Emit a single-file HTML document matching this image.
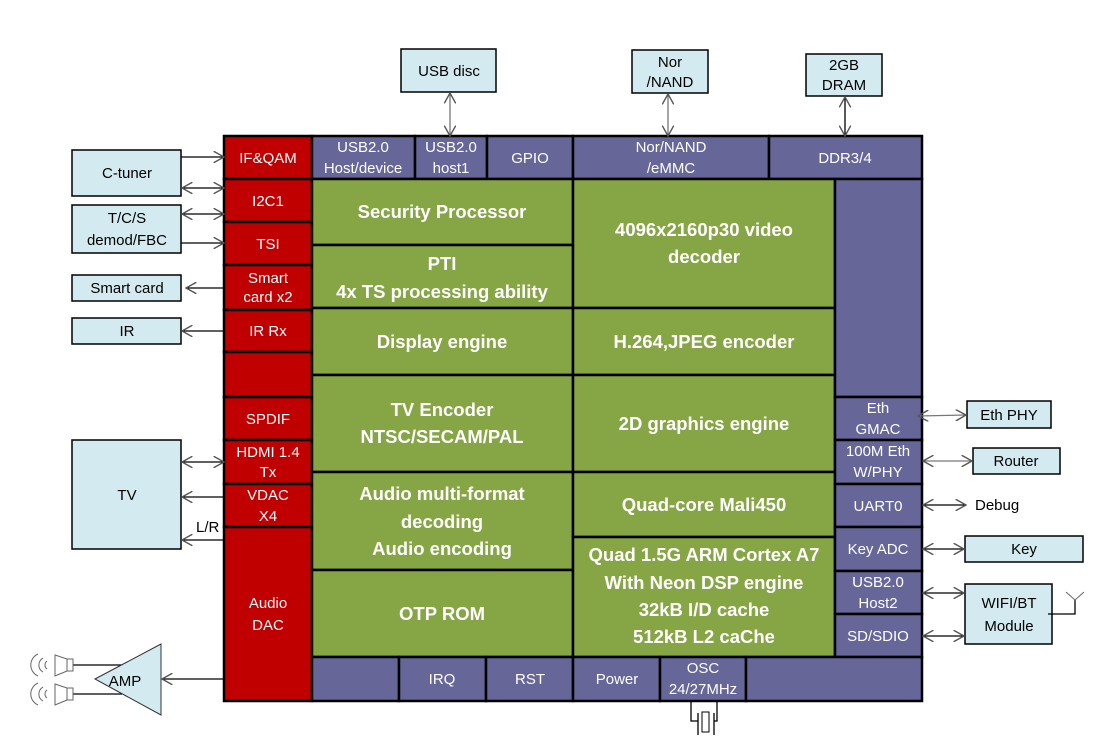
<!DOCTYPE html>
<html><head><meta charset="utf-8"><style>
html,body{margin:0;padding:0;background:#fff}
svg{display:block}
text{font-family:"Liberation Sans",Arial,sans-serif}
.r{fill:#c00000;stroke:#000;stroke-width:2.5}
.p{fill:#666699;stroke:#000;stroke-width:2.5}
.g{fill:#86a544;stroke:#000;stroke-width:2.5}
.b{fill:#d3eaf0;stroke:#000;stroke-width:1.5}
.w{fill:#fff;font-size:15px;text-anchor:middle}
.gw{fill:#fff;font-size:18.5px;font-weight:bold;text-anchor:middle}
.k{fill:#000;font-size:15px;text-anchor:middle}
.l{stroke:#000;stroke-width:1.3;fill:none}
.gr{stroke:#777;stroke-width:1.3;fill:none}
</style></head><body>
<svg width="1107" height="744" viewBox="0 0 1107 744" xmlns="http://www.w3.org/2000/svg">
<defs>
<marker id="a" viewBox="0 0 10 10" refX="9" refY="5" markerWidth="9" markerHeight="9" orient="auto-start-reverse"><path d="M0,0 L9,5 L0,10" fill="none" stroke="#555" stroke-width="1.2"/></marker>
</defs>
<!-- red column -->
<rect class="r" x="224" y="136" width="88" height="43"/><text class="w" x="268" y="163">IF&amp;QAM</text>
<rect class="r" x="224" y="179" width="88" height="43"/><text class="w" x="268" y="206">I2C1</text>
<rect class="r" x="224" y="222" width="88" height="43"/><text class="w" x="268" y="249">TSI</text>
<rect class="r" x="224" y="265" width="88" height="45"/><text class="w" x="268" y="283">Smart</text><text class="w" x="268" y="302">card x2</text>
<rect class="r" x="224" y="310" width="88" height="42"/><text class="w" x="268" y="336">IR Rx</text>
<rect class="r" x="224" y="352" width="88" height="45"/>
<rect class="r" x="224" y="397" width="88" height="43"/><text class="w" x="268" y="424">SPDIF</text>
<rect class="r" x="224" y="440" width="88" height="44"/><text class="w" x="268" y="457">HDMI 1.4</text><text class="w" x="268" y="477">Tx</text>
<rect class="r" x="224" y="484" width="88" height="43"/><text class="w" x="268" y="500">VDAC</text><text class="w" x="268" y="521">X4</text>
<rect class="r" x="224" y="527" width="88" height="174"/><text class="w" x="268" y="608">Audio</text><text class="w" x="268" y="630">DAC</text>
<!-- top row -->
<rect class="p" x="312" y="136" width="103" height="43"/><text class="w" x="363" y="152">USB2.0</text><text class="w" x="363" y="173">Host/device</text>
<rect class="p" x="415" y="136" width="72" height="43"/><text class="w" x="451" y="152">USB2.0</text><text class="w" x="451" y="173">host1</text>
<rect class="p" x="487" y="136" width="86" height="43"/><text class="w" x="530" y="163">GPIO</text>
<rect class="p" x="573" y="136" width="196" height="43"/><text class="w" x="671" y="152">Nor/NAND</text><text class="w" x="671" y="173">/eMMC</text>
<rect class="p" x="769" y="136" width="153" height="43"/><text class="w" x="845" y="163">DDR3/4</text>
<!-- green left -->
<rect class="g" x="312" y="179" width="261" height="66"/><text class="gw" x="442" y="218">Security Processor</text>
<rect class="g" x="312" y="245" width="261" height="63"/><text class="gw" x="442" y="270">PTI</text><text class="gw" x="442" y="298">4x TS processing ability</text>
<rect class="g" x="312" y="308" width="261" height="67"/><text class="gw" x="442" y="348">Display engine</text>
<rect class="g" x="312" y="375" width="261" height="97"/><text class="gw" x="442" y="416">TV Encoder</text><text class="gw" x="442" y="443">NTSC/SECAM/PAL</text>
<rect class="g" x="312" y="472" width="261" height="98"/><text class="gw" x="442" y="500">Audio multi-format</text><text class="gw" x="442" y="528">decoding</text><text class="gw" x="442" y="555">Audio encoding</text>
<rect class="g" x="312" y="570" width="261" height="87"/><text class="gw" x="442" y="620">OTP ROM</text>
<!-- green right -->
<rect class="g" x="573" y="179" width="262" height="129"/><text class="gw" x="704" y="236">4096x2160p30 video</text><text class="gw" x="704" y="263">decoder</text>
<rect class="g" x="573" y="308" width="262" height="67"/><text class="gw" x="704" y="348">H.264,JPEG encoder</text>
<rect class="g" x="573" y="375" width="262" height="97"/><text class="gw" x="704" y="430">2D graphics engine</text>
<rect class="g" x="573" y="472" width="262" height="65"/><text class="gw" x="704" y="511">Quad-core Mali450</text>
<rect class="g" x="573" y="537" width="262" height="120"/><text class="gw" x="704" y="561">Quad 1.5G ARM Cortex A7</text><text class="gw" x="704" y="589">With Neon DSP engine</text><text class="gw" x="704" y="616">32kB I/D cache</text><text class="gw" x="704" y="643">512kB L2 caChe</text>
<!-- right column -->
<rect class="p" x="835" y="179" width="87" height="218"/>
<rect class="p" x="835" y="397" width="87" height="43"/><text class="w" x="878" y="413">Eth</text><text class="w" x="878" y="434">GMAC</text>
<rect class="p" x="835" y="440" width="87" height="44"/><text class="w" x="878" y="456">100M Eth</text><text class="w" x="878" y="477">W/PHY</text>
<rect class="p" x="835" y="484" width="87" height="43"/><text class="w" x="878" y="511">UART0</text>
<rect class="p" x="835" y="527" width="87" height="44"/><text class="w" x="878" y="554">Key ADC</text>
<rect class="p" x="835" y="571" width="87" height="43"/><text class="w" x="878" y="587">USB2.0</text><text class="w" x="878" y="608">Host2</text>
<rect class="p" x="835" y="614" width="87" height="43"/><text class="w" x="878" y="641">SD/SDIO</text>
<!-- bottom row -->
<rect class="p" x="312" y="657" width="87" height="44"/>
<rect class="p" x="399" y="657" width="87" height="44"/><text class="w" x="442" y="684">IRQ</text>
<rect class="p" x="486" y="657" width="87" height="44"/><text class="w" x="530" y="684">RST</text>
<rect class="p" x="573" y="657" width="87" height="44"/><text class="w" x="617" y="684">Power</text>
<rect class="p" x="660" y="657" width="86" height="44"/><text class="w" x="703" y="673">OSC</text><text class="w" x="703" y="694">24/27MHz</text>
<rect class="p" x="746" y="657" width="176" height="44"/>
<!-- crystal -->
<path class="l" d="M691,701 V721 H698 M714,721 H717 V701 M698,713 V735 M714,713 V735"/>
<rect x="702" y="712" width="7" height="20" fill="none" stroke="#000" stroke-width="1"/>
<!-- external left -->
<rect class="b" x="72" y="150" width="109" height="46"/><text class="k" x="127" y="178">C-tuner</text>
<rect class="b" x="72" y="205" width="109" height="48"/><text class="k" x="127" y="223">T/C/S</text><text class="k" x="127" y="245">demod/FBC</text>
<rect class="b" x="72" y="275" width="109" height="26"/><text class="k" x="127" y="293">Smart card</text>
<rect class="b" x="72" y="318" width="109" height="26"/><text class="k" x="127" y="336">IR</text>
<rect class="b" x="72" y="440" width="109" height="109"/><text class="k" x="127" y="500">TV</text>
<line class="l" x1="181" y1="157" x2="224" y2="157" marker-end="url(#a)"/>
<line class="l" x1="182" y1="188" x2="224" y2="188" marker-start="url(#a)" marker-end="url(#a)"/>
<line class="l" x1="182" y1="214" x2="224" y2="214" marker-start="url(#a)" marker-end="url(#a)"/>
<line class="l" x1="181" y1="243" x2="224" y2="243" marker-end="url(#a)"/>
<line class="l" x1="224" y1="288" x2="186" y2="288" marker-end="url(#a)"/>
<line class="l" x1="224" y1="331" x2="182" y2="331" marker-end="url(#a)"/>
<line class="l" x1="182" y1="462" x2="224" y2="462" marker-start="url(#a)" marker-end="url(#a)"/>
<line class="l" x1="224" y1="497" x2="182" y2="497" marker-end="url(#a)"/>
<line class="l" x1="224" y1="540" x2="182" y2="540" marker-end="url(#a)"/>
<text x="196" y="532" font-size="15" fill="#000">L/R</text>
<!-- AMP -->
<line class="l" x1="224" y1="679" x2="162" y2="679" marker-end="url(#a)"/>
<line class="l" x1="72" y1="665" x2="122" y2="665"/>
<line class="l" x1="72" y1="694" x2="122" y2="694"/>
<polygon points="95,679 161,644 161,715" fill="#d3eaf0" stroke="#333" stroke-width="1"/>
<text x="125" y="686" font-size="15" fill="#000" text-anchor="middle">AMP</text>
<g stroke="#666" stroke-width="1" fill="#fff">
<rect x="67" y="659" width="6" height="12"/><path d="M55,655 L67,659 V671 L55,676 Z"/>
<rect x="67" y="688" width="6" height="12"/><path d="M55,684 L67,688 V700 L55,705 Z"/>
</g>
<g stroke="#666" stroke-width="1" fill="none">
<path d="M38,654 A12,12 0 0 0 38,676 M43,658 A8,8 0 0 0 43,672 M47,661 A5,5 0 0 0 47,669"/>
<path d="M38,683 A12,12 0 0 0 38,705 M43,687 A8,8 0 0 0 43,701 M47,690 A5,5 0 0 0 47,698"/>
</g>
<!-- top external -->
<rect class="b" x="401" y="49" width="95" height="43"/><text class="k" x="449" y="76">USB disc</text>
<rect class="b" x="632" y="50" width="76" height="43"/><text class="k" x="670" y="67">Nor</text><text class="k" x="670" y="87">/NAND</text>
<rect class="b" x="806" y="54" width="76" height="42"/><text class="k" x="844" y="70">2GB</text><text class="k" x="844" y="90">DRAM</text>
<line class="gr" x1="450" y1="93" x2="450" y2="136" marker-start="url(#a)" marker-end="url(#a)"/>
<line class="gr" x1="668" y1="94" x2="668" y2="136" marker-start="url(#a)" marker-end="url(#a)"/>
<line class="l" x1="845" y1="97" x2="845" y2="136" marker-start="url(#a)" marker-end="url(#a)"/>
<!-- right external -->
<rect class="b" x="967" y="401" width="84" height="27"/><text class="k" x="1009" y="420">Eth PHY</text>
<rect class="b" x="973" y="448" width="87" height="26"/><text class="k" x="1016" y="466">Router</text>
<text x="975" y="510" font-size="15" fill="#000">Debug</text>
<rect class="b" x="965" y="536" width="118" height="26"/><text class="k" x="1024" y="554">Key</text>
<rect class="b" x="965" y="584" width="87" height="60"/><text class="k" x="1009" y="608">WIFI/BT</text><text class="k" x="1009" y="631">Module</text>
<line class="gr" x1="918" y1="416" x2="966" y2="415" marker-start="url(#a)" marker-end="url(#a)"/>
<line class="gr" x1="923" y1="461" x2="972" y2="461" marker-start="url(#a)" marker-end="url(#a)"/>
<line class="l" x1="923" y1="505" x2="966" y2="505" marker-start="url(#a)" marker-end="url(#a)"/>
<line class="l" x1="923" y1="549" x2="964" y2="549" marker-start="url(#a)" marker-end="url(#a)"/>
<line class="l" x1="923" y1="593" x2="964" y2="593" marker-start="url(#a)" marker-end="url(#a)"/>
<line class="l" x1="923" y1="636" x2="964" y2="636" marker-start="url(#a)" marker-end="url(#a)"/>
<path class="l" d="M1048,614 H1075 V600"/>
<path d="M1066,592 L1075,600 L1084,592" stroke="#666" stroke-width="1" fill="none"/>
</svg>
</body></html>
